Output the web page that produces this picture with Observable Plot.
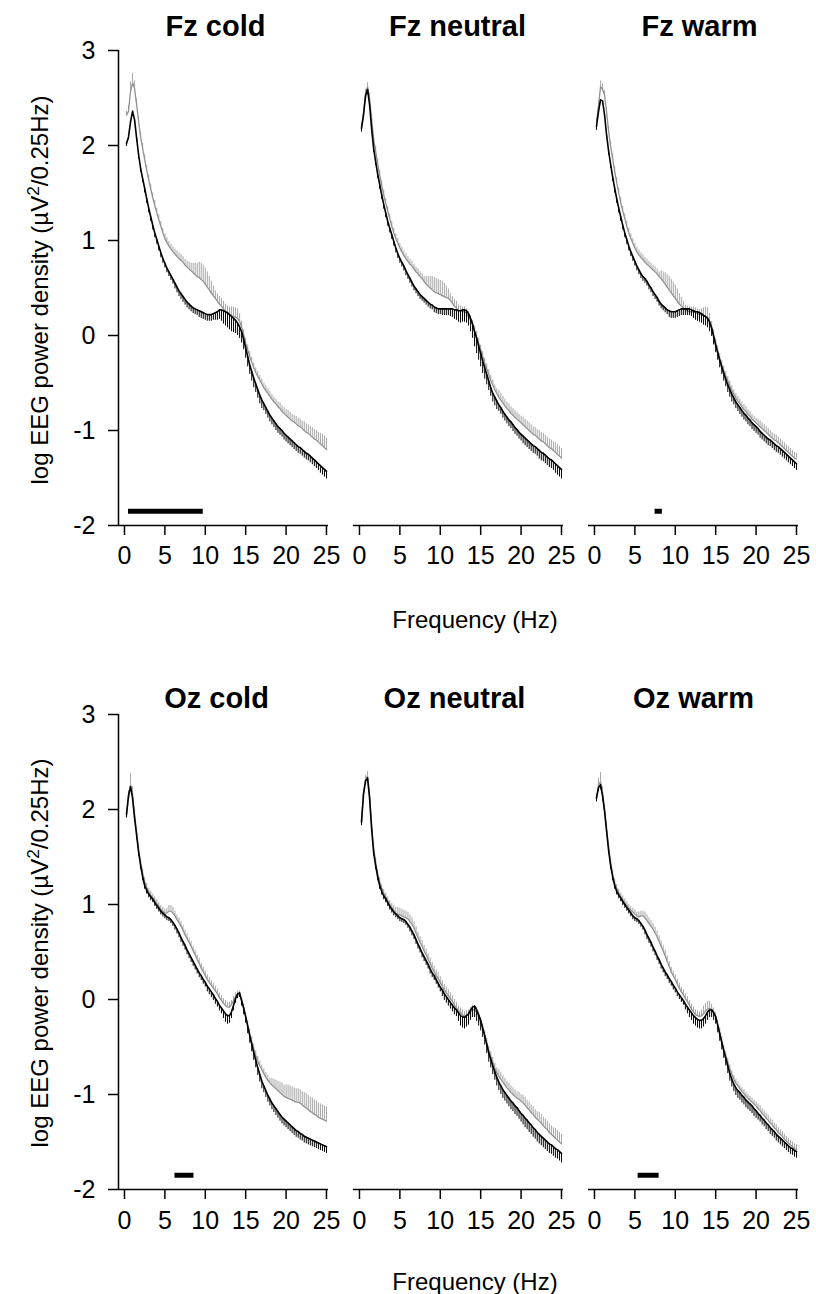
<!DOCTYPE html>
<html>
<head>
<meta charset="utf-8">
<script src="https://cdn.jsdelivr.net/npm/d3@7"></script>
<script src="https://cdn.jsdelivr.net/npm/@observablehq/plot@0.6"></script>
<style>
  html, body { margin: 0; padding: 0; background: #fff; }
  #page { position: relative; width: 816px; height: 1294px; font-family: "Liberation Sans", Arial, sans-serif; color: #000; }
  .row { position: absolute; left: 0; }
  .ylab { position: absolute; white-space: nowrap; font-size: 24px; transform: translate(-50%, -50%) rotate(-90deg); }
  .ylab sup { font-size: 0.72em; vertical-align: 0.5em; line-height: 0; }
  .xlab { position: absolute; white-space: nowrap; font-size: 24px; transform: translate(-50%, -50%); }
</style>
</head>
<body>
<div id="page">
  <div class="row" id="row1" style="top:0px"></div>
  <div class="row" id="row2" style="top:647px"></div>
  <div class="ylab" style="left:40px; top:290px">log EEG power density (µV<sup>2</sup>/0.25Hz)</div>
  <div class="ylab" style="left:40px; top:953px">log EEG power density (µV<sup>2</sup>/0.25Hz)</div>
  <div class="xlab" style="left:475px; top:620px">Frequency (Hz)</div>
  <div class="xlab" style="left:475px; top:1282px">Frequency (Hz)</div>
</div>
<script>
// ---------------- DATA ----------------
const conditions = ["cold", "neutral", "warm"];
const xTicks = [0, 5, 10, 15, 20, 25];
const yTicks = [-2, -1, 0, 1, 2, 3];

const freqs = [0.25,0.5,0.75,1,1.25,1.5,1.75,2,2.25,2.5,2.75,3,3.25,3.5,3.75,4,4.25,4.5,4.75,5,
5.25,5.5,5.75,6,6.25,6.5,6.75,7,7.25,7.5,7.75,8,8.25,8.5,8.75,9,9.25,9.5,9.75,10,
10.25,10.5,10.75,11,11.25,11.5,11.75,12,12.25,12.5,12.75,13,13.25,13.5,13.75,14,14.25,14.5,14.75,15,
15.25,15.5,15.75,16,16.25,16.5,16.75,17,17.25,17.5,17.75,18,18.25,18.5,18.75,19,19.25,19.5,19.75,20,
20.25,20.5,20.75,21,21.25,21.5,21.75,22,22.25,22.5,22.75,23,23.25,23.5,23.75,24,24.25,24.5,24.75,25];

// Fz
const fzColdGray = [2.32,2.36,2.57,2.66, 2.60,2.43,2.25,2.09, 1.97,1.85,1.74,1.64, 1.54,1.45,1.37,1.29, 1.22,1.15,1.08,1.02, 0.98,0.94,0.91,0.88, 0.86,0.83,0.81,0.79, 0.77,0.74,0.72,0.70, 0.68,0.66,0.64,0.62, 0.61,0.59,0.57,0.54, 0.51,0.48,0.45,0.42, 0.39,0.36,0.33,0.31, 0.28,0.25,0.23,0.22, 0.21,0.20,0.19,0.18, 0.15,0.09,0.01,-0.08, -0.15,-0.22,-0.28,-0.34, -0.39,-0.43,-0.47,-0.51, -0.55,-0.58,-0.61,-0.64, -0.67,-0.70,-0.72,-0.75, -0.77,-0.80,-0.82,-0.84, -0.86,-0.88,-0.90,-0.91, -0.93,-0.95,-0.96,-0.98, -1.00,-1.02,-1.03,-1.05, -1.07,-1.09,-1.10,-1.12, -1.14,-1.16,-1.18,-1.20];
const fzColdGraySE = [0.04,0.06,0.10,0.10, 0.08,0.06,0.05,0.05, 0.05,0.05,0.05,0.05, 0.05,0.05,0.05,0.05, 0.05,0.05,0.05,0.05, 0.05,0.05,0.05,0.05, 0.05,0.06,0.06,0.06, 0.06,0.06,0.06,0.07, 0.08,0.10,0.12,0.14, 0.16,0.17,0.17,0.17, 0.16,0.14,0.12,0.10, 0.08,0.08,0.08,0.08, 0.08,0.08,0.08,0.08, 0.09,0.10,0.10,0.10, 0.08,0.06,0.05,0.05, 0.05,0.05,0.05,0.05, 0.05,0.05,0.05,0.05, 0.05,0.05,0.05,0.05, 0.05,0.05,0.05,0.05, 0.06,0.06,0.06,0.06, 0.07,0.07,0.07,0.07, 0.08,0.08,0.08,0.08, 0.09,0.09,0.09,0.09, 0.10,0.10,0.10,0.10, 0.11,0.12,0.12,0.12];
const fzColdBlack = [2.02,2.09,2.25,2.36, 2.27,2.08,1.90,1.76, 1.65,1.55,1.44,1.34, 1.25,1.16,1.08,1.01, 0.94,0.87,0.81,0.76, 0.71,0.67,0.63,0.59, 0.55,0.51,0.47,0.44, 0.41,0.38,0.35,0.33, 0.31,0.29,0.28,0.27, 0.26,0.25,0.24,0.23, 0.22,0.22,0.22,0.23, 0.24,0.25,0.27,0.27, 0.26,0.25,0.24,0.22, 0.20,0.18,0.16,0.13, 0.09,0.04,-0.04,-0.13, -0.22,-0.31,-0.38,-0.45, -0.51,-0.57,-0.63,-0.68, -0.72,-0.76,-0.80,-0.84, -0.87,-0.90,-0.93,-0.96, -0.98,-1.00,-1.03,-1.05, -1.07,-1.09,-1.11,-1.13, -1.15,-1.17,-1.18,-1.20, -1.22,-1.24,-1.25,-1.27, -1.29,-1.31,-1.33,-1.35, -1.37,-1.39,-1.41,-1.43];
const fzColdBlackSE = [0.03,0.03,0.03,0.03, 0.03,0.04,0.04,0.04, 0.04,0.05,0.05,0.05, 0.05,0.05,0.05,0.05, 0.05,0.05,0.05,0.05, 0.05,0.05,0.05,0.05, 0.06,0.06,0.06,0.06, 0.06,0.06,0.06,0.06, 0.06,0.06,0.06,0.06, 0.07,0.07,0.07,0.07, 0.07,0.07,0.07,0.07, 0.08,0.09,0.10,0.12, 0.14,0.15,0.16,0.16, 0.16,0.15,0.14,0.13, 0.12,0.12,0.11,0.11, 0.11,0.10,0.10,0.10, 0.09,0.09,0.09,0.09, 0.07,0.07,0.07,0.07, 0.07,0.07,0.07,0.07, 0.07,0.07,0.07,0.07, 0.07,0.07,0.07,0.07, 0.07,0.07,0.07,0.07, 0.07,0.07,0.07,0.07, 0.07,0.07,0.07,0.07, 0.08,0.08,0.08,0.08];

const fzNeutralGray = [2.20,2.35,2.55,2.62, 2.50,2.28,2.07,1.94, 1.81,1.69,1.58,1.48, 1.39,1.31,1.23,1.15, 1.08,1.02,0.97,0.92, 0.88,0.84,0.81,0.78, 0.75,0.73,0.70,0.67, 0.65,0.62,0.60,0.57, 0.54,0.52,0.50,0.48, 0.46,0.45,0.44,0.43, 0.42,0.41,0.40,0.39, 0.37,0.34,0.31,0.29, 0.27,0.26,0.25,0.25, 0.23,0.20,0.16,0.11, 0.05,-0.01,-0.08,-0.15, -0.22,-0.29,-0.35,-0.41, -0.47,-0.52,-0.57,-0.61, -0.65,-0.68,-0.71,-0.74, -0.77,-0.79,-0.82,-0.84, -0.86,-0.88,-0.90,-0.92, -0.94,-0.96,-0.98,-1.00, -1.02,-1.04,-1.05,-1.07, -1.09,-1.11,-1.12,-1.14, -1.16,-1.18,-1.19,-1.21, -1.23,-1.25,-1.27,-1.29];
const fzNeutralGraySE = [0.03,0.03,0.04,0.04, 0.05,0.05,0.05,0.05, 0.05,0.05,0.05,0.05, 0.05,0.05,0.05,0.05, 0.05,0.05,0.05,0.05, 0.05,0.05,0.05,0.05, 0.05,0.05,0.05,0.05, 0.05,0.05,0.05,0.05, 0.08,0.10,0.12,0.14, 0.15,0.15,0.15,0.15, 0.15,0.14,0.12,0.10, 0.07,0.07,0.07,0.07, 0.05,0.05,0.05,0.05, 0.05,0.05,0.05,0.05, 0.05,0.05,0.05,0.05, 0.05,0.05,0.05,0.05, 0.05,0.05,0.05,0.05, 0.07,0.07,0.07,0.07, 0.07,0.07,0.07,0.07, 0.07,0.07,0.07,0.07, 0.08,0.08,0.08,0.08, 0.08,0.08,0.08,0.08, 0.09,0.09,0.09,0.09, 0.09,0.09,0.09,0.09, 0.10,0.10,0.10,0.10];
const fzNeutralBlack = [2.18,2.32,2.52,2.59, 2.43,2.18,1.97,1.83, 1.70,1.59,1.48,1.38, 1.29,1.20,1.13,1.06, 0.99,0.92,0.86,0.81, 0.77,0.73,0.68,0.64, 0.60,0.56,0.52,0.49, 0.46,0.43,0.41,0.39, 0.37,0.35,0.33,0.32, 0.30,0.29,0.28,0.28, 0.28,0.28,0.28,0.28, 0.28,0.28,0.27,0.27, 0.26,0.26,0.27,0.27, 0.26,0.23,0.18,0.12, 0.04,-0.03,-0.11,-0.19, -0.27,-0.34,-0.41,-0.48, -0.55,-0.61,-0.65,-0.69, -0.73,-0.76,-0.80,-0.83, -0.86,-0.89,-0.91,-0.94, -0.97,-0.99,-1.02,-1.04, -1.06,-1.08,-1.10,-1.12, -1.14,-1.16,-1.17,-1.19, -1.21,-1.23,-1.24,-1.26, -1.28,-1.30,-1.31,-1.33, -1.35,-1.37,-1.39,-1.41];
const fzNeutralBlackSE = [0.04,0.04,0.04,0.04, 0.04,0.04,0.04,0.04, 0.05,0.05,0.05,0.05, 0.05,0.05,0.05,0.05, 0.05,0.05,0.05,0.05, 0.05,0.05,0.05,0.05, 0.05,0.05,0.05,0.05, 0.05,0.05,0.05,0.05, 0.05,0.05,0.05,0.05, 0.06,0.06,0.06,0.06, 0.07,0.07,0.07,0.07, 0.08,0.09,0.10,0.11, 0.12,0.13,0.13,0.13, 0.13,0.13,0.14,0.15, 0.16,0.16,0.15,0.14, 0.13,0.12,0.11,0.10, 0.09,0.09,0.09,0.09, 0.07,0.07,0.07,0.07, 0.07,0.07,0.07,0.07, 0.07,0.07,0.07,0.07, 0.08,0.08,0.08,0.08, 0.08,0.08,0.08,0.08, 0.09,0.09,0.09,0.09, 0.09,0.09,0.09,0.09, 0.10,0.10,0.10,0.10];

const fzWarmGray = [2.25,2.42,2.62,2.59, 2.53,2.35,2.15,1.99, 1.86,1.73,1.61,1.50, 1.40,1.31,1.23,1.15, 1.08,1.02,0.97,0.92, 0.88,0.85,0.82,0.80, 0.77,0.75,0.73,0.71, 0.69,0.67,0.65,0.62, 0.60,0.57,0.54,0.51, 0.48,0.45,0.42,0.39, 0.36,0.33,0.31,0.29, 0.27,0.26,0.25,0.25, 0.25,0.24,0.23,0.22, 0.22,0.21,0.20,0.19, 0.15,0.09,0.01,-0.08, -0.16,-0.24,-0.31,-0.37, -0.43,-0.48,-0.53,-0.58, -0.62,-0.66,-0.69,-0.72, -0.75,-0.78,-0.80,-0.83, -0.85,-0.88,-0.90,-0.92, -0.94,-0.96,-0.98,-1.00, -1.02,-1.04,-1.06,-1.08, -1.10,-1.11,-1.13,-1.15, -1.17,-1.19,-1.21,-1.23, -1.25,-1.27,-1.29,-1.30];
const fzWarmGraySE = [0.04,0.05,0.06,0.06, 0.05,0.05,0.05,0.05, 0.05,0.05,0.05,0.05, 0.05,0.05,0.05,0.05, 0.05,0.05,0.05,0.05, 0.05,0.05,0.05,0.05, 0.05,0.05,0.05,0.05, 0.05,0.05,0.05,0.05, 0.08,0.10,0.12,0.13, 0.14,0.14,0.14,0.14, 0.13,0.11,0.09,0.07, 0.05,0.05,0.05,0.05, 0.05,0.05,0.05,0.05, 0.06,0.08,0.10,0.10, 0.08,0.06,0.05,0.05, 0.05,0.05,0.05,0.05, 0.05,0.05,0.05,0.05, 0.05,0.05,0.05,0.05, 0.05,0.05,0.05,0.05, 0.05,0.05,0.05,0.05, 0.06,0.06,0.06,0.06, 0.06,0.06,0.06,0.06, 0.06,0.06,0.06,0.06, 0.06,0.06,0.06,0.06, 0.06,0.06,0.06,0.06];
const fzWarmBlack = [2.20,2.36,2.48,2.47, 2.32,2.11,1.94,1.80, 1.67,1.55,1.44,1.34, 1.25,1.16,1.08,1.01, 0.94,0.88,0.83,0.78, 0.73,0.69,0.65,0.62, 0.60,0.57,0.53,0.50, 0.46,0.43,0.40,0.36, 0.33,0.31,0.29,0.27, 0.26,0.25,0.25,0.25, 0.26,0.27,0.28,0.28, 0.28,0.28,0.28,0.27, 0.26,0.25,0.25,0.24, 0.23,0.21,0.20,0.18, 0.14,0.08,-0.01,-0.10, -0.18,-0.26,-0.33,-0.40, -0.46,-0.52,-0.57,-0.62, -0.66,-0.70,-0.73,-0.76, -0.79,-0.82,-0.84,-0.87, -0.89,-0.92,-0.94,-0.96, -0.98,-1.01,-1.03,-1.05, -1.07,-1.09,-1.10,-1.12, -1.14,-1.16,-1.17,-1.19, -1.21,-1.23,-1.25,-1.27, -1.29,-1.31,-1.33,-1.35];
const fzWarmBlackSE = [0.04,0.04,0.04,0.04, 0.04,0.04,0.04,0.04, 0.05,0.05,0.05,0.05, 0.05,0.05,0.05,0.05, 0.05,0.05,0.05,0.05, 0.05,0.05,0.05,0.05, 0.05,0.05,0.05,0.05, 0.05,0.05,0.05,0.05, 0.05,0.05,0.05,0.05, 0.07,0.07,0.07,0.07, 0.07,0.07,0.07,0.07, 0.07,0.07,0.07,0.07, 0.08,0.09,0.10,0.10, 0.10,0.10,0.10,0.10, 0.10,0.09,0.09,0.08, 0.08,0.08,0.08,0.08, 0.08,0.08,0.08,0.08, 0.07,0.07,0.07,0.07, 0.07,0.07,0.07,0.07, 0.07,0.07,0.07,0.07, 0.07,0.07,0.07,0.07, 0.07,0.07,0.07,0.07, 0.07,0.07,0.07,0.07, 0.07,0.07,0.07,0.07, 0.07,0.07,0.07,0.07];

// Oz
const ozColdGray = [1.93,2.12,2.26,2.16, 1.95,1.76,1.58,1.44, 1.33,1.24,1.18,1.13, 1.10,1.07,1.04,1.01, 0.98,0.95,0.93,0.91, 0.91,0.93,0.93,0.91, 0.88,0.84,0.81,0.77, 0.73,0.68,0.64,0.60, 0.56,0.51,0.47,0.42, 0.38,0.33,0.29,0.25, 0.21,0.18,0.15,0.12, 0.09,0.06,0.02,-0.01, -0.04,-0.06,-0.08,-0.08, -0.05,-0.01,0.03,0.05, 0.05,-0.02,-0.09,-0.18, -0.27,-0.36,-0.44,-0.52, -0.59,-0.65,-0.70,-0.74, -0.78,-0.82,-0.85,-0.88, -0.90,-0.92,-0.94,-0.96, -0.98,-1.00,-1.02,-1.03, -1.04,-1.05,-1.06,-1.07, -1.08,-1.08,-1.09,-1.11, -1.13,-1.14,-1.16,-1.18, -1.19,-1.21,-1.22,-1.24, -1.25,-1.26,-1.27,-1.28];
const ozColdGraySE = [0.05,0.08,0.12,0.08, 0.05,0.04,0.04,0.04, 0.04,0.04,0.04,0.04, 0.04,0.04,0.04,0.04, 0.04,0.04,0.04,0.04, 0.05,0.06,0.06,0.06, 0.05,0.05,0.05,0.05, 0.05,0.05,0.05,0.05, 0.05,0.05,0.05,0.05, 0.05,0.05,0.05,0.05, 0.05,0.05,0.05,0.05, 0.05,0.05,0.05,0.05, 0.05,0.05,0.05,0.05, 0.04,0.04,0.04,0.04, 0.04,0.04,0.04,0.04, 0.05,0.05,0.05,0.05, 0.05,0.05,0.05,0.05, 0.05,0.05,0.05,0.05, 0.07,0.08,0.09,0.10, 0.11,0.12,0.12,0.13, 0.14,0.14,0.14,0.14, 0.14,0.14,0.14,0.14, 0.15,0.15,0.15,0.15, 0.15,0.15,0.15,0.15, 0.15,0.15,0.15,0.15];
const ozColdBlack = [1.95,2.15,2.24,2.12, 1.91,1.73,1.55,1.41, 1.29,1.20,1.15,1.11, 1.08,1.06,1.02,0.99, 0.96,0.93,0.91,0.89, 0.87,0.86,0.84,0.81, 0.78,0.74,0.70,0.65, 0.61,0.57,0.52,0.48, 0.44,0.40,0.36,0.32, 0.28,0.25,0.21,0.18, 0.14,0.11,0.08,0.05, 0.01,-0.02,-0.06,-0.09, -0.12,-0.15,-0.17,-0.17, -0.13,-0.06,0.01,0.06, 0.07,-0.01,-0.09,-0.18, -0.28,-0.38,-0.47,-0.56, -0.64,-0.72,-0.79,-0.86, -0.91,-0.96,-1.01,-1.05, -1.09,-1.12,-1.15,-1.18, -1.21,-1.24,-1.26,-1.28, -1.30,-1.32,-1.34,-1.36, -1.38,-1.39,-1.41,-1.42, -1.44,-1.45,-1.46,-1.47, -1.48,-1.49,-1.50,-1.51, -1.52,-1.53,-1.54,-1.55];
const ozColdBlackSE = [0.04,0.04,0.04,0.04, 0.04,0.04,0.04,0.04, 0.04,0.04,0.04,0.04, 0.04,0.04,0.04,0.04, 0.04,0.04,0.04,0.04, 0.04,0.04,0.04,0.04, 0.05,0.05,0.05,0.05, 0.05,0.05,0.05,0.05, 0.05,0.05,0.05,0.05, 0.05,0.05,0.05,0.05, 0.06,0.06,0.06,0.06, 0.06,0.06,0.06,0.06, 0.08,0.09,0.09,0.08, 0.07,0.06,0.05,0.05, 0.05,0.06,0.07,0.07, 0.08,0.08,0.08,0.08, 0.08,0.08,0.08,0.08, 0.07,0.07,0.07,0.07, 0.07,0.07,0.07,0.07, 0.07,0.07,0.07,0.07, 0.07,0.07,0.07,0.07, 0.07,0.07,0.07,0.07, 0.07,0.07,0.07,0.07, 0.07,0.07,0.07,0.07, 0.07,0.07,0.07,0.07];

const ozNeutralGray = [1.87,2.18,2.32,2.35, 2.15,1.84,1.60,1.45, 1.33,1.24,1.17,1.12, 1.08,1.04,1.00,0.97, 0.94,0.91,0.90,0.89, 0.88,0.87,0.86,0.85, 0.82,0.79,0.75,0.70, 0.65,0.60,0.56,0.51, 0.47,0.42,0.38,0.33, 0.29,0.25,0.22,0.18, 0.14,0.10,0.07,0.04, 0.01,-0.02,-0.06,-0.09, -0.12,-0.14,-0.16,-0.18, -0.17,-0.16,-0.13,-0.11, -0.11,-0.13,-0.18,-0.24, -0.31,-0.38,-0.46,-0.54, -0.60,-0.66,-0.72,-0.77, -0.81,-0.84,-0.87,-0.90, -0.93,-0.95,-0.98,-1.00, -1.02,-1.04,-1.05,-1.07, -1.09,-1.11,-1.14,-1.16, -1.19,-1.21,-1.24,-1.26, -1.28,-1.30,-1.33,-1.35, -1.37,-1.40,-1.42,-1.44, -1.46,-1.48,-1.50,-1.52];
const ozNeutralGraySE = [0.03,0.03,0.04,0.05, 0.04,0.04,0.04,0.04, 0.04,0.04,0.04,0.04, 0.04,0.04,0.04,0.04, 0.05,0.06,0.07,0.07, 0.07,0.07,0.07,0.07, 0.07,0.07,0.07,0.07, 0.06,0.06,0.06,0.06, 0.06,0.06,0.06,0.06, 0.06,0.06,0.06,0.06, 0.06,0.06,0.06,0.06, 0.06,0.06,0.06,0.06, 0.05,0.05,0.05,0.05, 0.05,0.05,0.05,0.05, 0.05,0.05,0.05,0.05, 0.05,0.05,0.05,0.05, 0.05,0.05,0.05,0.05, 0.07,0.07,0.07,0.07, 0.07,0.07,0.07,0.07, 0.07,0.07,0.07,0.07, 0.08,0.08,0.08,0.08, 0.08,0.08,0.08,0.08, 0.09,0.09,0.09,0.09, 0.09,0.09,0.09,0.09, 0.10,0.10,0.10,0.10];
const ozNeutralBlack = [1.87,2.16,2.30,2.33, 2.12,1.80,1.55,1.41, 1.29,1.20,1.14,1.09, 1.06,1.02,0.98,0.95, 0.92,0.90,0.88,0.86, 0.85,0.84,0.82,0.79, 0.76,0.72,0.68,0.63, 0.58,0.54,0.49,0.45, 0.41,0.37,0.32,0.28, 0.25,0.21,0.17,0.13, 0.10,0.06,0.03,0.00, -0.03,-0.06,-0.09,-0.11, -0.14,-0.17,-0.18,-0.19, -0.17,-0.15,-0.11,-0.08, -0.07,-0.11,-0.16,-0.22, -0.30,-0.38,-0.47,-0.56, -0.63,-0.70,-0.76,-0.82, -0.87,-0.91,-0.95,-0.98, -1.01,-1.04,-1.07,-1.09, -1.12,-1.14,-1.17,-1.20, -1.22,-1.25,-1.27,-1.30, -1.32,-1.35,-1.37,-1.40, -1.42,-1.44,-1.46,-1.48, -1.50,-1.52,-1.53,-1.55, -1.57,-1.58,-1.60,-1.62];
const ozNeutralBlackSE = [0.04,0.04,0.04,0.04, 0.04,0.04,0.04,0.04, 0.04,0.04,0.04,0.04, 0.04,0.04,0.04,0.04, 0.04,0.04,0.04,0.04, 0.04,0.04,0.04,0.04, 0.05,0.05,0.05,0.05, 0.05,0.05,0.05,0.05, 0.05,0.05,0.05,0.05, 0.05,0.05,0.05,0.05, 0.07,0.07,0.07,0.07, 0.07,0.07,0.07,0.07, 0.09,0.11,0.12,0.12, 0.12,0.12,0.11,0.11, 0.12,0.12,0.12,0.11, 0.10,0.10,0.10,0.10, 0.09,0.09,0.09,0.09, 0.09,0.09,0.09,0.09, 0.09,0.09,0.09,0.09, 0.09,0.09,0.09,0.09, 0.10,0.10,0.10,0.10, 0.10,0.10,0.10,0.10, 0.10,0.10,0.10,0.10, 0.10,0.10,0.10,0.10, 0.10,0.10,0.10,0.10];

const ozWarmGray = [2.12,2.26,2.29,2.18, 2.00,1.80,1.60,1.44, 1.32,1.23,1.17,1.12, 1.08,1.05,1.02,0.99, 0.96,0.94,0.92,0.90, 0.88,0.87,0.88,0.88, 0.86,0.83,0.80,0.77, 0.74,0.70,0.66,0.61, 0.56,0.51,0.46,0.40, 0.35,0.29,0.25,0.21, 0.16,0.12,0.08,0.05, 0.01,-0.02,-0.06,-0.10, -0.13,-0.16,-0.17,-0.18, -0.17,-0.15,-0.12,-0.10, -0.09,-0.10,-0.13,-0.18, -0.26,-0.34,-0.43,-0.52, -0.59,-0.66,-0.73,-0.79, -0.84,-0.88,-0.91,-0.94, -0.97,-0.99,-1.02,-1.04, -1.06,-1.08,-1.10,-1.12, -1.15,-1.17,-1.20,-1.22, -1.25,-1.27,-1.30,-1.32, -1.35,-1.37,-1.40,-1.42, -1.44,-1.47,-1.49,-1.51, -1.53,-1.55,-1.57,-1.58];
const ozWarmGraySE = [0.04,0.07,0.10,0.06, 0.04,0.04,0.04,0.04, 0.04,0.04,0.04,0.04, 0.04,0.04,0.04,0.04, 0.04,0.04,0.04,0.04, 0.04,0.05,0.05,0.05, 0.06,0.06,0.06,0.06, 0.06,0.06,0.06,0.06, 0.06,0.06,0.06,0.06, 0.05,0.05,0.05,0.05, 0.05,0.05,0.05,0.05, 0.05,0.05,0.05,0.05, 0.05,0.05,0.05,0.05, 0.06,0.08,0.08,0.08, 0.07,0.05,0.04,0.04, 0.04,0.04,0.04,0.04, 0.04,0.04,0.04,0.04, 0.04,0.04,0.04,0.04, 0.04,0.04,0.04,0.04, 0.04,0.04,0.04,0.04, 0.05,0.05,0.05,0.05, 0.05,0.05,0.05,0.05, 0.05,0.05,0.05,0.05, 0.05,0.05,0.05,0.05, 0.05,0.05,0.05,0.05];
const ozWarmBlack = [2.12,2.23,2.26,2.14, 1.98,1.77,1.57,1.41, 1.29,1.20,1.14,1.10, 1.07,1.03,1.00,0.97, 0.94,0.91,0.88,0.86, 0.85,0.83,0.80,0.77, 0.73,0.68,0.64,0.60, 0.55,0.51,0.46,0.42, 0.37,0.33,0.29,0.26, 0.22,0.19,0.15,0.12, 0.08,0.05,0.02,-0.01, -0.05,-0.08,-0.11,-0.14, -0.17,-0.19,-0.21,-0.22, -0.22,-0.20,-0.17,-0.13, -0.11,-0.11,-0.14,-0.18, -0.27,-0.36,-0.45,-0.54, -0.62,-0.70,-0.78,-0.84, -0.89,-0.93,-0.96,-0.98, -1.01,-1.03,-1.06,-1.08, -1.10,-1.12,-1.15,-1.17, -1.20,-1.22,-1.25,-1.27, -1.30,-1.32,-1.35,-1.37, -1.39,-1.42,-1.44,-1.46, -1.48,-1.50,-1.52,-1.54, -1.56,-1.57,-1.59,-1.60];
const ozWarmBlackSE = [0.04,0.04,0.05,0.05, 0.04,0.04,0.04,0.04, 0.04,0.04,0.04,0.04, 0.04,0.04,0.04,0.04, 0.04,0.04,0.04,0.04, 0.04,0.04,0.04,0.04, 0.05,0.05,0.05,0.05, 0.05,0.05,0.05,0.05, 0.05,0.05,0.05,0.05, 0.05,0.05,0.05,0.05, 0.05,0.05,0.05,0.05, 0.06,0.07,0.08,0.08, 0.09,0.09,0.09,0.09, 0.09,0.09,0.09,0.09, 0.08,0.08,0.08,0.08, 0.08,0.08,0.08,0.08, 0.08,0.08,0.08,0.08, 0.08,0.08,0.08,0.08, 0.08,0.08,0.08,0.08, 0.08,0.08,0.08,0.08, 0.07,0.07,0.07,0.07, 0.07,0.07,0.07,0.07, 0.07,0.07,0.07,0.07, 0.07,0.07,0.07,0.07, 0.07,0.07,0.07,0.07];

// significance bars (Hz ranges)
const sigSite = ["Fz", "Fz", "Oz", "Oz"];
const sigCond = ["cold", "warm", "cold", "warm"];
const sigFrom = [0.5, 7.5, 6.25, 5.4];
const sigTo = [9.75, 8.4, 8.6, 8.0];
const sigLevel = -1.85;

// ---------------- BUILD TABLE ----------------
const seriesTable = [
  ["Fz", "cold", "gray", fzColdGray, fzColdGraySE], ["Fz", "cold", "black", fzColdBlack, fzColdBlackSE],
  ["Fz", "neutral", "gray", fzNeutralGray, fzNeutralGraySE], ["Fz", "neutral", "black", fzNeutralBlack, fzNeutralBlackSE],
  ["Fz", "warm", "gray", fzWarmGray, fzWarmGraySE], ["Fz", "warm", "black", fzWarmBlack, fzWarmBlackSE],
  ["Oz", "cold", "gray", ozColdGray, ozColdGraySE], ["Oz", "cold", "black", ozColdBlack, ozColdBlackSE],
  ["Oz", "neutral", "gray", ozNeutralGray, ozNeutralGraySE], ["Oz", "neutral", "black", ozNeutralBlack, ozNeutralBlackSE],
  ["Oz", "warm", "gray", ozWarmGray, ozWarmGraySE], ["Oz", "warm", "black", ozWarmBlack, ozWarmBlackSE]
];
const rows = [];
for (const [site, cond, series, means, ses] of seriesTable) {
  means.forEach((m, i) => rows.push({site, cond, series, f: freqs[i], mean: m, se: ses[i]}));
}
const sigRows = sigSite.map((s, i) => ({site: s, cond: sigCond[i], from: sigFrom[i], to: sigTo[i]}));

const xDomain = [-0.74, 25.25];
const FONT = "'Liberation Sans', Arial, Helvetica, sans-serif";

function rowPlot(site, cfg) {
  const gray = rows.filter(d => d.site === site && d.series === "gray");
  const black = rows.filter(d => d.site === site && d.series === "black");
  const sig = sigRows.filter(d => d.site === site);
  const titles = conditions.map((c, i) =>
    Plot.text([`${site} ${c}`], {fx: [c], frameAnchor: "top", lineAnchor: "bottom", dy: -cfg.titlePad,
      dx: cfg.titleDx[i], fontSize: 29, fontWeight: "bold", fill: "#000"}));
  return Plot.plot({
    width: 816,
    height: cfg.height,
    marginLeft: 117,
    marginRight: 16,
    marginTop: cfg.top,
    marginBottom: cfg.bottom,
    style: {fontFamily: FONT, color: "#000", background: "transparent", overflow: "visible"},
    fx: {domain: conditions, padding: 0.105, label: null, axis: null},
    x: {domain: xDomain},
    y: {domain: [-2, 3]},
    marks: [
      ...titles,
      Plot.axisY({ticks: yTicks, tickSize: 10, tickPadding: 13, fontSize: 25, strokeWidth: 1.5,
                  tickFormat: d => String(d), label: null}),
      Plot.axisX({ticks: xTicks, tickSize: 10, tickPadding: cfg.xPad, fontSize: 25, strokeWidth: 1.5,
                  tickFormat: d => String(d), label: null}),
      Plot.ruleY([-2], {stroke: "#000", strokeWidth: 1.5}),
      Plot.ruleX([xDomain[0]], {fx: ["cold"], y1: -2, y2: 3, stroke: "#000", strokeWidth: 1.5}),
      Plot.ruleX(gray, {x: "f", y1: "mean", y2: d => d.mean + d.se, fx: "cond", stroke: "#a6a6a6", strokeWidth: 1}),
      Plot.line(gray, {x: "f", y: "mean", fx: "cond", stroke: "#919191", strokeWidth: 1.3}),
      Plot.ruleX(black, {x: "f", y1: "mean", y2: d => d.mean - d.se, fx: "cond", stroke: "#000", strokeWidth: 1}),
      Plot.line(black, {x: "f", y: "mean", fx: "cond", stroke: "#000", strokeWidth: 1.6}),
      Plot.ruleY(sig, {fx: "cond", y: sigLevel, x1: "from", x2: "to", stroke: "#000", strokeWidth: 5})
    ]
  });
}

document.getElementById("row1").appendChild(rowPlot("Fz", {height: 647, top: 50, bottom: 122, titlePad: 15, xPad: 11, titleDx: [-8, -1, 6]}));
document.getElementById("row2").appendChild(rowPlot("Oz", {height: 647, top: 67, bottom: 105, titlePad: 7, xPad: 12, titleDx: [-7, -4, 0]}));
</script>
</body>
</html>
